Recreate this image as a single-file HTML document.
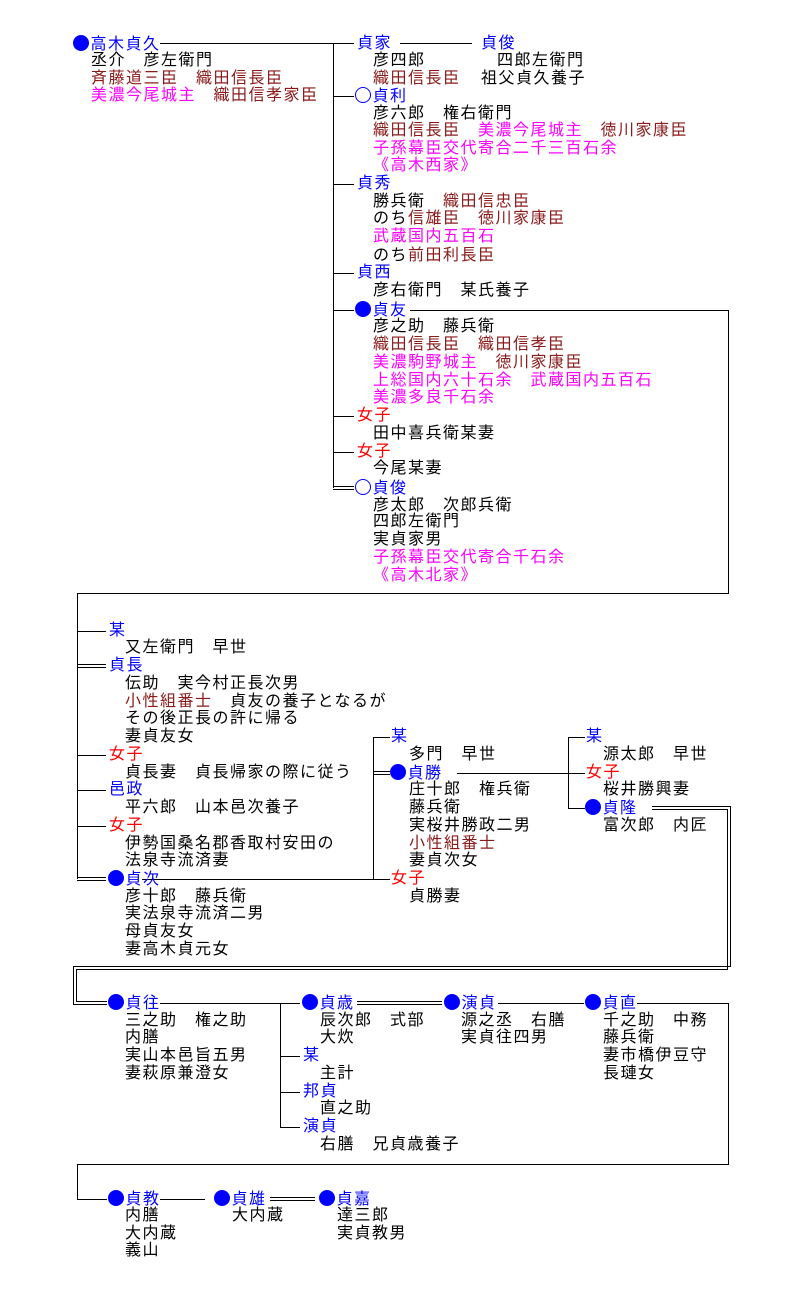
<!DOCTYPE html>
<html><head><meta charset="utf-8"><style>
body{margin:0;width:794px;height:1290px;background:#fff;position:relative;overflow:hidden;font-family:"Liberation Sans","Noto Sans CJK JP",sans-serif;}
.t{position:absolute;white-space:pre;font-size:16px;letter-spacing:1.5px;line-height:18px;color:#000;}
.b{color:#0000ff}.r{color:#8b1a1a}.m{color:#ff00ff}.e{color:#ff0000}
.d,.o{display:inline-block;width:16px;height:16px;border-radius:50%;vertical-align:-2px;margin-right:1.5px;box-sizing:border-box}
.d{background:#0000ff}.o{border:1.2px solid #0000ff}
svg{position:absolute;left:0;top:0}
</style></head><body>
<svg width="794" height="1290" stroke="#000" stroke-width="1" fill="none" shape-rendering="crispEdges">
<line x1="160" y1="43.5" x2="333" y2="43.5"/>
<line x1="333.5" y1="43" x2="333.5" y2="488"/>
<line x1="333" y1="43.5" x2="354" y2="43.5"/>
<line x1="400" y1="43.5" x2="472" y2="43.5"/>
<line x1="333" y1="96.5" x2="354" y2="96.5"/>
<line x1="333" y1="184.5" x2="354" y2="184.5"/>
<line x1="333" y1="273.5" x2="354" y2="273.5"/>
<line x1="333" y1="310.5" x2="354" y2="310.5"/>
<line x1="333" y1="416.5" x2="354" y2="416.5"/>
<line x1="333" y1="452.5" x2="354" y2="452.5"/>
<line x1="333" y1="486.5" x2="354" y2="486.5"/><line x1="333" y1="489.5" x2="354" y2="489.5"/>
<polyline points="410,310.5 728.5,310.5 728.5,593.5 77.5,593.5 77.5,879"/>
<line x1="77" y1="631.5" x2="106" y2="631.5"/>
<line x1="77" y1="664.5" x2="106" y2="664.5"/><line x1="77" y1="667.5" x2="106" y2="667.5"/>
<line x1="77" y1="755.5" x2="106" y2="755.5"/>
<line x1="77" y1="790.5" x2="106" y2="790.5"/>
<line x1="77" y1="826.5" x2="106" y2="826.5"/>
<line x1="77" y1="877.5" x2="106" y2="877.5"/><line x1="77" y1="880.5" x2="106" y2="880.5"/>
<line x1="142" y1="879.5" x2="373" y2="879.5"/>
<line x1="373.5" y1="737" x2="373.5" y2="880"/>
<line x1="373" y1="737.5" x2="390" y2="737.5"/>
<line x1="373" y1="771.5" x2="390" y2="771.5"/><line x1="373" y1="774.5" x2="390" y2="774.5"/>
<line x1="373" y1="879.5" x2="390" y2="879.5"/>
<line x1="457" y1="773.5" x2="568" y2="773.5"/>
<line x1="568.5" y1="737" x2="568.5" y2="808"/>
<line x1="568" y1="737.5" x2="585" y2="737.5"/>
<line x1="568" y1="773.5" x2="585" y2="773.5"/>
<line x1="568" y1="808.5" x2="585" y2="808.5"/>
<polyline points="652,806.5 730.5,806.5 730.5,966.5 73.5,966.5 73.5,1004.5 107,1004.5"/>
<polyline points="652,809.5 727.5,809.5 727.5,969.5 76.5,969.5 76.5,1001.5 107,1001.5"/>
<line x1="160" y1="1003.5" x2="280" y2="1003.5"/>
<line x1="280.5" y1="1003" x2="280.5" y2="1128"/>
<line x1="280" y1="1003.5" x2="300" y2="1003.5"/>
<line x1="280" y1="1056.5" x2="300" y2="1056.5"/>
<line x1="280" y1="1092.5" x2="300" y2="1092.5"/>
<line x1="280" y1="1127.5" x2="300" y2="1127.5"/>
<line x1="357" y1="1001.5" x2="442" y2="1001.5"/><line x1="357" y1="1004.5" x2="442" y2="1004.5"/>
<line x1="498" y1="1003.5" x2="584" y2="1003.5"/>
<polyline points="637,1003.5 728.5,1003.5 728.5,1164.5 77.5,1164.5 77.5,1199.5 107,1199.5"/>
<line x1="160" y1="1199.5" x2="205" y2="1199.5"/>
<line x1="270" y1="1197.5" x2="315" y2="1197.5"/><line x1="270" y1="1200.5" x2="315" y2="1200.5"/>
</svg>

<div class="t b" style="left:73px;top:35px"><span class="d"></span>高木貞久</div>
<div class="t" style="left:91px;top:52px">丞介　彦左衛門</div>
<div class="t r" style="left:91px;top:70px">斉藤道三臣　織田信長臣</div>
<div class="t" style="left:91px;top:87px"><span class="m">美濃今尾城主</span>　<span class="r">織田信孝家臣</span></div>

<div class="t b" style="left:357px;top:35px">貞家</div>
<div class="t b" style="left:481px;top:35px">貞俊</div>
<div class="t" style="left:373px;top:52px">彦四郎</div>
<div class="t" style="left:497px;top:52px">四郎左衛門</div>
<div class="t r" style="left:373px;top:70px">織田信長臣</div>
<div class="t" style="left:481px;top:70px">祖父貞久養子</div>
<div class="t b" style="left:355px;top:87px"><span class="o"></span>貞利</div>
<div class="t" style="left:373px;top:105px">彦六郎　権右衛門</div>
<div class="t r" style="left:373px;top:122px">織田信長臣　<span class="m">美濃今尾城主</span>　徳川家康臣</div>
<div class="t m" style="left:373px;top:140px">子孫幕臣交代寄合二千三百石余</div>
<div class="t m" style="left:373px;top:157px">《高木西家》</div>
<div class="t b" style="left:357px;top:175px">貞秀</div>
<div class="t" style="left:373px;top:193px">勝兵衛　<span class="r">織田信忠臣</span></div>
<div class="t" style="left:373px;top:210px">のち<span class="r">信雄臣　徳川家康臣</span></div>
<div class="t m" style="left:373px;top:228px">武蔵国内五百石</div>
<div class="t" style="left:373px;top:247px">のち<span class="r">前田利長臣</span></div>
<div class="t b" style="left:357px;top:264px">貞西</div>
<div class="t" style="left:373px;top:282px">彦右衛門　某氏養子</div>
<div class="t b" style="left:355px;top:301px"><span class="d"></span>貞友</div>
<div class="t" style="left:373px;top:318px">彦之助　藤兵衛</div>
<div class="t r" style="left:373px;top:336px">織田信長臣　織田信孝臣</div>
<div class="t" style="left:373px;top:354px"><span class="m">美濃駒野城主</span>　<span class="r">徳川家康臣</span></div>
<div class="t m" style="left:373px;top:372px">上総国内六十石余　武蔵国内五百石</div>
<div class="t m" style="left:373px;top:389px">美濃多良千石余</div>
<div class="t e" style="left:357px;top:407px">女子</div>
<div class="t" style="left:373px;top:425px">田中喜兵衛某妻</div>
<div class="t e" style="left:357px;top:443px">女子</div>
<div class="t" style="left:373px;top:460px">今尾某妻</div>
<div class="t b" style="left:355px;top:479px"><span class="o"></span>貞俊</div>
<div class="t" style="left:373px;top:497px">彦太郎　次郎兵衛</div>
<div class="t" style="left:373px;top:513px">四郎左衛門</div>
<div class="t" style="left:373px;top:531px">実貞家男</div>
<div class="t m" style="left:373px;top:549px">子孫幕臣交代寄合千石余</div>
<div class="t m" style="left:373px;top:567px">《高木北家》</div>

<div class="t b" style="left:109px;top:622px">某</div>
<div class="t" style="left:125px;top:639px">又左衛門　早世</div>
<div class="t b" style="left:109px;top:657px">貞長</div>
<div class="t" style="left:125px;top:675px">伝助　実今村正長次男</div>
<div class="t" style="left:125px;top:693px"><span class="r">小性組番士</span>　貞友の養子となるが</div>
<div class="t" style="left:125px;top:710px">その後正長の許に帰る</div>
<div class="t" style="left:125px;top:728px">妻貞友女</div>
<div class="t e" style="left:109px;top:746px">女子</div>
<div class="t" style="left:125px;top:764px">貞長妻　貞長帰家の際に従う</div>
<div class="t b" style="left:109px;top:781px">邑政</div>
<div class="t" style="left:125px;top:799px">平六郎　山本邑次養子</div>
<div class="t e" style="left:109px;top:817px">女子</div>
<div class="t" style="left:125px;top:835px">伊勢国桑名郡香取村安田の</div>
<div class="t" style="left:125px;top:852px">法泉寺流済妻</div>
<div class="t b" style="left:108px;top:870px"><span class="d"></span>貞次</div>
<div class="t" style="left:125px;top:888px">彦十郎　藤兵衛</div>
<div class="t" style="left:125px;top:905px">実法泉寺流済二男</div>
<div class="t" style="left:125px;top:923px">母貞友女</div>
<div class="t" style="left:125px;top:941px">妻高木貞元女</div>

<div class="t b" style="left:391px;top:728px">某</div>
<div class="t" style="left:409px;top:746px">多門　早世</div>
<div class="t b" style="left:390px;top:764px"><span class="d"></span>貞勝</div>
<div class="t" style="left:409px;top:781px">庄十郎　権兵衛</div>
<div class="t" style="left:409px;top:799px">藤兵衛</div>
<div class="t" style="left:409px;top:817px">実桜井勝政二男</div>
<div class="t r" style="left:409px;top:835px">小性組番士</div>
<div class="t" style="left:409px;top:852px">妻貞次女</div>
<div class="t e" style="left:391px;top:870px">女子</div>
<div class="t" style="left:409px;top:888px">貞勝妻</div>

<div class="t b" style="left:586px;top:728px">某</div>
<div class="t" style="left:603px;top:746px">源太郎　早世</div>
<div class="t e" style="left:586px;top:764px">女子</div>
<div class="t" style="left:603px;top:781px">桜井勝興妻</div>
<div class="t b" style="left:585px;top:799px"><span class="d"></span>貞隆</div>
<div class="t" style="left:603px;top:817px">富次郎　内匠</div>

<div class="t b" style="left:108px;top:994px"><span class="d"></span>貞往</div>
<div class="t" style="left:125px;top:1012px">三之助　権之助</div>
<div class="t" style="left:125px;top:1029px">内膳</div>
<div class="t" style="left:125px;top:1047px">実山本邑旨五男</div>
<div class="t" style="left:125px;top:1065px">妻萩原兼澄女</div>
<div class="t b" style="left:302px;top:994px"><span class="d"></span>貞歳</div>
<div class="t" style="left:320px;top:1012px">辰次郎　式部</div>
<div class="t" style="left:320px;top:1029px">大炊</div>
<div class="t b" style="left:303px;top:1047px">某</div>
<div class="t" style="left:320px;top:1065px">主計</div>
<div class="t b" style="left:303px;top:1083px">邦貞</div>
<div class="t" style="left:320px;top:1100px">直之助</div>
<div class="t b" style="left:303px;top:1118px">演貞</div>
<div class="t" style="left:320px;top:1136px">右膳　兄貞歳養子</div>
<div class="t b" style="left:444px;top:994px"><span class="d"></span>演貞</div>
<div class="t" style="left:461px;top:1012px">源之丞　右膳</div>
<div class="t" style="left:461px;top:1029px">実貞往四男</div>
<div class="t b" style="left:585px;top:994px"><span class="d"></span>貞直</div>
<div class="t" style="left:603px;top:1012px">千之助　中務</div>
<div class="t" style="left:603px;top:1029px">藤兵衛</div>
<div class="t" style="left:603px;top:1047px">妻市橋伊豆守</div>
<div class="t" style="left:603px;top:1065px">長璉女</div>

<div class="t b" style="left:108px;top:1190px"><span class="d"></span>貞教</div>
<div class="t" style="left:125px;top:1207px">内膳</div>
<div class="t" style="left:125px;top:1225px">大内蔵</div>
<div class="t" style="left:125px;top:1242px">義山</div>
<div class="t b" style="left:214px;top:1190px"><span class="d"></span>貞雄</div>
<div class="t" style="left:232px;top:1207px">大内蔵</div>
<div class="t b" style="left:319px;top:1190px"><span class="d"></span>貞嘉</div>
<div class="t" style="left:337px;top:1207px">達三郎</div>
<div class="t" style="left:337px;top:1225px">実貞教男</div>
</body></html>
